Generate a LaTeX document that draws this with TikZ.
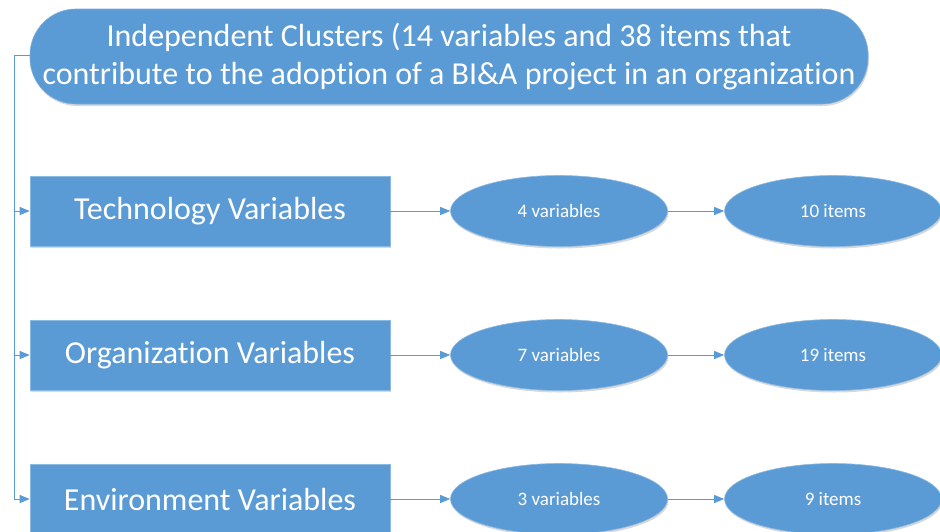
\documentclass[tikz,border=0pt]{standalone}
\usepackage{fontspec}
\setmainfont{Carlito}[Ligatures=NoCommon]
\usetikzlibrary{arrows.meta,shadows,shapes.geometric}
\definecolor{officeblue}{HTML}{5B9BD5}
\tikzset{
  x=1pt,y=-1pt,
  shade/.style={drop shadow={shadow xshift=1pt,shadow yshift=-2pt,opacity=0.25,fill=black!60}},
  headbox/.style={fill=officeblue,draw=officeblue!80!white,line width=0.6pt,rounded corners=46pt,
    minimum width=838pt,minimum height=95pt,text=white,align=center,font=\fontsize{32}{38}\selectfont,inner sep=0pt,shade},
  catbox/.style={fill=officeblue,draw=officeblue!70!white,line width=0.6pt,minimum width=360pt,minimum height=70pt,
    text=white,font=\fontsize{32}{36}\selectfont,inner sep=0pt,shade},
  countell/.style={ellipse,fill=officeblue,draw=officeblue!70!white,line width=0.6pt,minimum width=217pt,minimum height=71pt,
    text=white,font=\fontsize{19}{22}\selectfont,inner sep=0pt,shade},
  link/.style={draw=officeblue,line width=0.8pt,-{Triangle[length=10pt,width=8pt]}},
}
\begin{document}
\begin{tikzpicture}
\clip (0,0) rectangle (940,531);
\fill[white] (0,0) rectangle (940,531);

\node[headbox] (head) at (449,56.5) {Independent Clusters (14 variables and 38 items that\\contribute to the adoption of a BI\&A project in an organization};

\node[catbox] (tech) at (210,211) {\raisebox{-2pt}{Technology Variables}};
\node[catbox] (org) at (210,355) {\raisebox{-2pt}{Organization Variables}};
\node[catbox] (env) at (210,499) {\raisebox{-2pt}{Environment Variables}};

\node[countell] (tv) at (559,211) {4 variables};
\node[countell] (ti) at (833,211) {10 items};
\node[countell] (ov) at (559,355) {7 variables};
\node[countell] (oi) at (833,355) {19 items};
\node[countell] (ev) at (559,499) {3 variables};
\node[countell] (ei) at (833,499) {9 items};

\coordinate (trunk) at (14,55);
\draw[draw=officeblue,line width=0.8pt] (head.west |- trunk) -- (trunk);
\draw[link] (trunk) |- (tech.west);
\draw[link] (trunk) |- (org.west);
\draw[link] (trunk) |- (env.west);

\draw[link] (tech) -- (tv);
\draw[link] (tv) -- (ti);
\draw[link] (org) -- (ov);
\draw[link] (ov) -- (oi);
\draw[link] (env) -- (ev);
\draw[link] (ev) -- (ei);
\end{tikzpicture}
\end{document}
